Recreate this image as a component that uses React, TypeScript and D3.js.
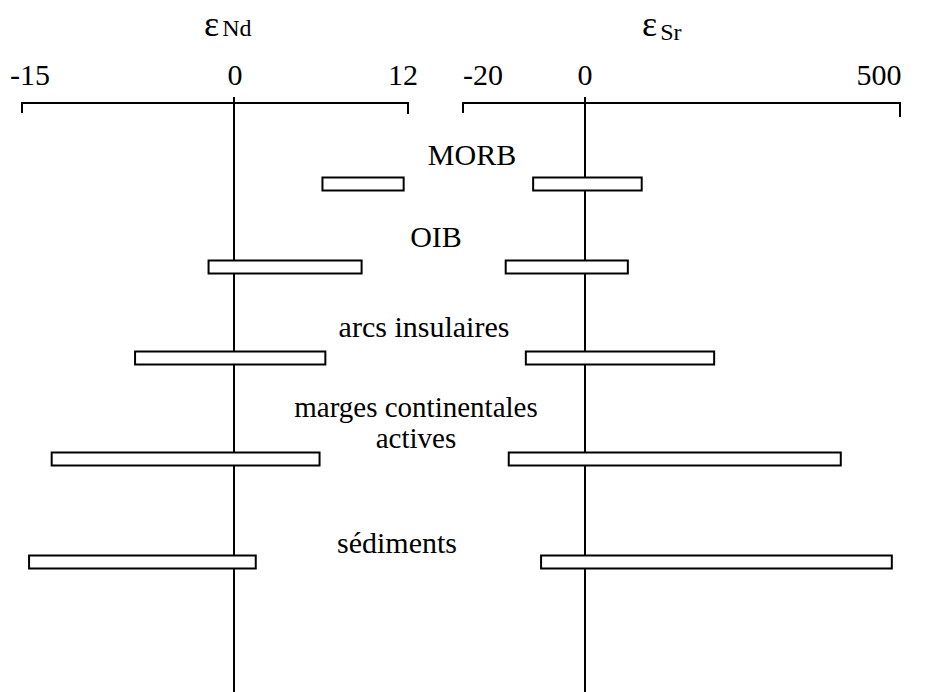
import * as d3 from 'd3';

// categories (label lines) and ranges
const categories = [
  ['MORB'],
  ['OIB'],
  ['arcs insulaires'],
  ['marges continentales', 'actives'],
  ['sédiments'],
];
const ndMin = [6.1, -1.8, -7.0, -12.9, -14.5];
const ndMax = [11.7, 8.8, 6.3, 5.9, 1.5];
const srMin = [-8.5, -13, -9.7, -12.5, -7.2];
const srMax = [90, 68, 205, 406, 487];
const ndTicks = [-15, 0, 12];
const srTicks = [-20, 0, 500];

const W = 928;
const H = 692;
const FONT = "'Liberation Serif', 'DejaVu Serif', serif";

export default function App() {
  // broken scales: the negative part is stretched
  const xNd = d3.scaleLinear().domain([-15, 0, 12]).range([22, 234, 408]);
  const xSr = d3.scaleLinear().domain([-20, 0, 500]).range([463, 585, 900]);
  const y = d3.scaleLinear().domain([0, 1, 2, 3, 4]).range([184, 267, 358, 459, 562]);

  const axisY = 103;
  const barH = 13;

  // label placement tweaks, per row
  const labelX = [472, 436, 424, 416, 397];
  const labelDy = [-19, -20, -21, -11, -9];
  const ndTickDx = [8, 1, -5];
  const srTickDx = [20, 0, -21];

  const panels = [
    { x: xNd, ticks: ndTicks, dx: ndTickDx, lo: ndMin, hi: ndMax, sub: 'Nd', titleX: 204 },
    { x: xSr, ticks: srTicks, dx: srTickDx, lo: srMin, hi: srMax, sub: 'Sr', titleX: 642 },
  ];

  const txt = { fontFamily: FONT };

  return (
    <svg width={W} height={H} style={{ position: 'absolute', left: 0, top: 0, background: '#fff' }}>
      <rect width={W} height={H} fill="#fff" />
      {panels.map((p, pi) => {
        const [d0, , d1] = p.x.domain();
        return (
          <g key={pi}>
            <text x={p.titleX} y={36} fontSize={36} style={txt}>
              ε
              <tspan fontSize={24} dx={3} dy={pi === 1 ? 4 : 0}>{p.sub}</tspan>
            </text>
            {p.ticks.map((t, i) => (
              <text key={t} x={p.x(t) + p.dx[i]} y={85} fontSize={30} textAnchor="middle" style={txt}>
                {t}
              </text>
            ))}
            <path
              d={`M${p.x(d0)},${axisY + 10}V${axisY}H${p.x(d1)}V${axisY + (pi === 1 ? 14 : 11)}`}
              fill="none" stroke="#000" strokeWidth={2}
            />
            <line x1={p.x(0)} x2={p.x(0)} y1={axisY - 6} y2={H} stroke="#000" strokeWidth={2} />
            {categories.map((c, i) => (
              <rect key={i}
                x={p.x(p.lo[i])} y={y(i) - barH / 2}
                width={p.x(p.hi[i]) - p.x(p.lo[i])} height={barH}
                fill="#fff" stroke="#000" strokeWidth={2}
              />
            ))}
          </g>
        );
      })}
      {categories.map((lines, i) =>
        lines.map((l, j) => (
          <text key={`${i}-${j}`} x={labelX[i]} y={y(i) + labelDy[i] - (lines.length - 1 - j) * 31}
            fontSize={lines.length > 1 ? 29 : 30} textAnchor="middle" style={txt}>
            {l}
          </text>
        ))
      )}
    </svg>
  );
}
